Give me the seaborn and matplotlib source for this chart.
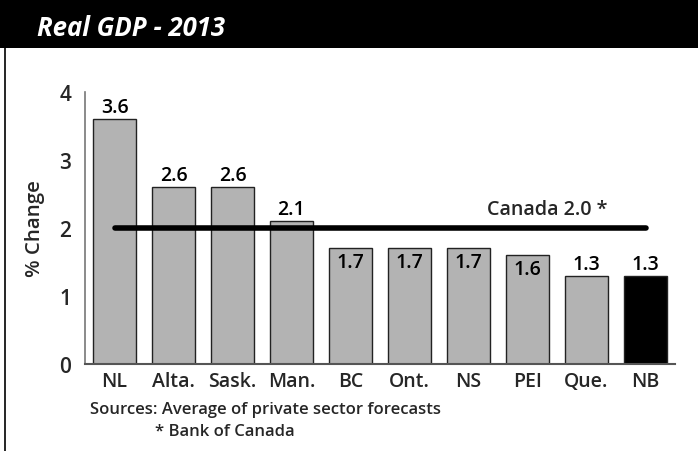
import matplotlib
matplotlib.use("Agg")
import matplotlib.pyplot as plt
import seaborn as sns
import pandas as pd
from matplotlib.patches import Rectangle
from matplotlib.lines import Line2D

# data
provinces = ["NL", "Alta.", "Sask.", "Man.", "BC", "Ont.", "NS", "PEI", "Que.", "NB"]
gdp_change = [3.6, 2.6, 2.6, 2.1, 1.7, 1.7, 1.7, 1.6, 1.3, 1.3]
bar_colors = ["#b3b3b3"] * 9 + ["#000000"]
label_inside = [False, False, False, False, True, True, True, True, False, False]
canada_avg = 2.0
yticks = [0, 1, 2, 3, 4]

sns.set_style("white")
plt.rcParams["font.family"] = ["Open Sans", "DejaVu Sans"]

df = pd.DataFrame({"province": provinces, "change": gdp_change})

fig = plt.figure(figsize=(6.98, 4.52), dpi=100)
ax = fig.add_axes([85 / 698, 1 - 365 / 452, 590 / 698, 272 / 452])

sns.barplot(data=df, x="province", y="change", hue="province",
            palette=bar_colors, legend=False, width=0.73,
            edgecolor="#222222", linewidth=1.0, ax=ax)

ax.set_xlim(-0.5, 9.5)
ax.set_ylim(0, 4)
ax.set_yticks(yticks)
ax.set_yticklabels([str(t) for t in yticks], fontsize=15, fontweight="semibold")
ax.tick_params(axis="y", length=0, pad=10)
ax.tick_params(axis="x", length=0, pad=5, labelsize=14)
for lbl in ax.get_xticklabels():
    lbl.set_fontweight("semibold")
ax.set_xlabel("")
ax.set_ylabel("% Change", fontsize=14.7, fontweight="semibold", labelpad=10)

for s in ["top", "right"]:
    ax.spines[s].set_visible(False)
ax.spines["left"].set_color("#777777")
ax.spines["bottom"].set_color("#555555")
ax.spines["left"].set_linewidth(1.2)
ax.spines["bottom"].set_linewidth(1.5)

# value labels
for i, (v, inside) in enumerate(zip(gdp_change, label_inside)):
    if inside:
        ax.text(i, v - 0.05, f"{v:.1f}", ha="center", va="top",
                fontsize=14, fontweight="semibold", color="black")
    else:
        ax.text(i, v + 0.03, f"{v:.1f}", ha="center", va="bottom",
                fontsize=14, fontweight="semibold", color="black")

# Canada average line
ax.plot([0, len(provinces) - 1], [canada_avg, canada_avg], color="black",
        linewidth=4, solid_capstyle="round", zorder=5)
ax.text(7.33, canada_avg + 0.28, f"Canada {canada_avg:.1f} *", ha="center",
        va="center", fontsize=14.2, fontweight="semibold")

# header band and frame
fig.patches.append(Rectangle((0, 1 - 49 / 452), 1, 48 / 452, transform=fig.transFigure,
                             facecolor="black", edgecolor="none", zorder=0))
fig.lines.append(Line2D([5 / 698, 5 / 698], [0, 1 - 49 / 452], transform=fig.transFigure,
                        color="black", linewidth=1.2))
fig.text(37 / 698, 1 - 29 / 452, "Real GDP - 2013", color="white", fontsize=18.5,
         fontweight="bold", fontstyle="italic", va="center", ha="left")

# sources
fig.text(90 / 698, 1 - 410 / 452, "Sources: Average of private sector forecasts",
         fontsize=12, fontweight="semibold", va="center", ha="left")
fig.text(155 / 698, 1 - 432 / 452, "* Bank of Canada",
         fontsize=12, fontweight="semibold", va="center", ha="left")

fig.savefig("out.png", dpi=100)
